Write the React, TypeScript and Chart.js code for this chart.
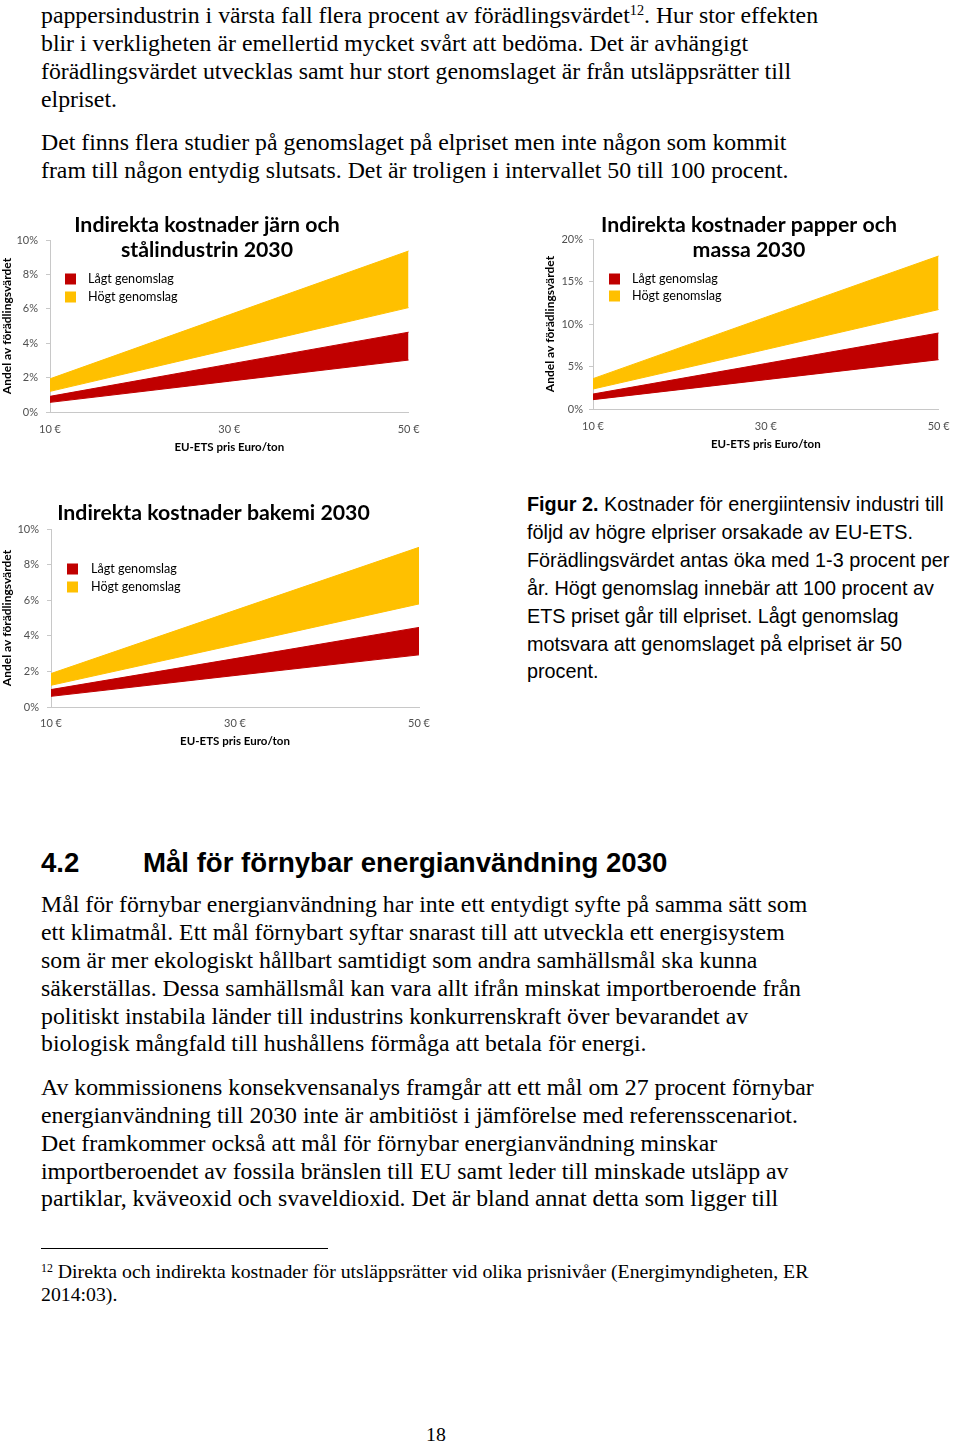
import React, { useEffect, useRef } from 'react';
import { Chart, registerables } from 'chart.js';

Chart.register(...registerables);

// ---------- Chart data ----------
const xLabels = ['10 €', '30 €', '50 €'];
const legendLabels = ['Lågt genomslag', 'Högt genomslag'];
const yAxisTitle = 'Andel av förädlingsvärdet';
const xAxisTitle = 'EU-ETS pris Euro/ton';

const steelTitle = ['Indirekta kostnader järn och', 'stålindustrin 2030'];
const steelLowMin = [0.56, 1.79, 3.02];
const steelLowMax = [0.91, 2.78, 4.64];
const steelHighMin = [1.2, 3.64, 6.07];
const steelHighMax = [1.93, 5.65, 9.36];

const paperTitle = ['Indirekta kostnader papper och', 'massa 2030'];
const paperLowMin = [1.1, 3.45, 5.8];
const paperLowMax = [1.76, 5.35, 8.94];
const paperHighMin = [2.35, 7.0, 11.7];
const paperHighMax = [3.57, 10.8, 18.0];

const chemTitle = ['Indirekta kostnader bakemi 2030'];
const chemLowMin = [0.6, 1.77, 2.93];
const chemLowMax = [0.98, 2.72, 4.47];
const chemHighMin = [1.22, 3.5, 5.79];
const chemHighMax = [1.88, 5.43, 8.97];

const RED = '#C00000';
const YELLOW = '#FFC000';
const AXIS = '#C8C8C8';
const TICK = '#505050';
const CFONT = 'Lato, "Open Sans", sans-serif';

// ---------- Page text ----------
const para1 = [
  'blir i verkligheten är emellertid mycket svårt att bedöma. Det är avhängigt',
  'förädlingsvärdet utvecklas samt hur stort genomslaget är från utsläppsrätter till',
  'elpriset.',
];
const para2 = [
  'Det finns flera studier på genomslaget på elpriset men inte någon som kommit',
  'fram till någon entydig slutsats. Det är troligen i intervallet 50 till 100 procent.',
];
const caption = [
  'följd av högre elpriser orsakade av EU-ETS.',
  'Förädlingsvärdet antas öka med 1-3 procent per',
  'år. Högt genomslag innebär att 100 procent av',
  'ETS priset går till elpriset. Lågt genomslag',
  'motsvara att genomslaget på elpriset är 50',
  'procent.',
];
const para3 = [
  'Mål för förnybar energianvändning har inte ett entydigt syfte på samma sätt som',
  'ett klimatmål. Ett mål förnybart syftar snarast till att utveckla ett energisystem',
  'som är mer ekologiskt hållbart samtidigt som andra samhällsmål ska kunna',
  'säkerställas. Dessa samhällsmål kan vara allt ifrån minskat importberoende från',
  'politiskt instabila länder till industrins konkurrenskraft över bevarandet av',
  'biologisk mångfald till hushållens förmåga att betala för energi.',
];
const para4 = [
  'Av kommissionens konsekvensanalys framgår att ett mål om 27 procent förnybar',
  'energianvändning till 2030 inte är ambitiöst i jämförelse med referensscenariot.',
  'Det framkommer också att mål för förnybar energianvändning minskar',
  'importberoendet av fossila bränslen till EU samt leder till minskade utsläpp av',
  'partiklar, kväveoxid och svaveldioxid. Det är bland annat detta som ligger till',
];

const SERIF = '"Liberation Serif", "Times New Roman", serif';
const SANS = '"Liberation Sans", Arial, sans-serif';
const BODY = 23.8;
const CAP = 19.8;
const FOOT = 19.8;

// ---------- Overlay plugin (title + legend inside plot) ----------
const overlayPlugin = {
  id: 'overlay',
  afterDraw(chart: any, _args: any, opts: any) {
    const ctx = chart.ctx;
    const ca = chart.chartArea;
    ctx.save();
    ctx.fillStyle = '#000';
    ctx.font = `bold ${opts.titleSize}px ${CFONT}`;
    ctx.textAlign = 'center';
    ctx.textBaseline = 'middle';
    (opts.title as string[]).forEach((t, i) => ctx.fillText(t, opts.titleX, opts.titleYs[i]));
    const items = chart.data.datasets.filter((d: any) => d.label);
    ctx.textAlign = 'left';
    ctx.font = `12.6px ${CFONT}`;
    items.forEach((d: any, i: number) => {
      const cy = ca.top + opts.legendRows[i];
      ctx.fillStyle = d.backgroundColor;
      ctx.fillRect(ca.left + opts.legendSq, cy - 5.5, 11, 11);
      ctx.fillStyle = '#000';
      ctx.fillText(d.label, ca.left + opts.legendText, cy);
    });
    ctx.restore();
  },
};

type BandProps = {
  left: number; top: number; w: number; h: number;
  title: string[]; titleX: number; titleYs: number[];
  lowMin: number[]; lowMax: number[]; highMin: number[]; highMax: number[];
  yMax: number; yStep: number;
  padTop: number; padRight: number; yWidth: number; xHeight: number;
  yTickPad: number; yTitlePad: number; xTickPad: number; xTitlePad: number;
  legendSq: number; legendText: number; legendRows: number[];
};

function BandChart(p: BandProps) {
  const ref = useRef<HTMLCanvasElement>(null);
  useEffect(() => {
    const line = (data: number[], color: string, label: string, fill: any) => ({
      label,
      data,
      borderColor: color,
      backgroundColor: color,
      borderWidth: 1,
      pointRadius: 0,
      pointHoverRadius: 0,
      tension: 0,
      fill,
    });
    const chart = new Chart(ref.current as HTMLCanvasElement, {
      type: 'line',
      data: {
        labels: xLabels,
        datasets: [
          line(p.lowMin, RED, '', false),
          line(p.lowMax, RED, legendLabels[0], '-1'),
          line(p.highMin, YELLOW, '', false),
          line(p.highMax, YELLOW, legendLabels[1], '-1'),
        ],
      },
      options: {
        animation: false,
        responsive: false,
        maintainAspectRatio: false,
        devicePixelRatio: 1,
        layout: { padding: { top: p.padTop, right: p.padRight, left: 0, bottom: 0 } },
        plugins: {
          legend: { display: false },
          title: { display: false },
          tooltip: { enabled: false },
          overlay: {
            title: p.title, titleX: p.titleX, titleYs: p.titleYs, titleSize: 21.3,
            legendSq: p.legendSq, legendText: p.legendText, legendRows: p.legendRows,
          },
        } as any,
        scales: {
          x: {
            type: 'category',
            offset: false,
            grid: { display: false, drawTicks: false, drawOnChartArea: false },
            border: { display: true, color: AXIS, width: 1 },
            ticks: { color: TICK, font: { family: CFONT, size: 11 }, padding: p.xTickPad, maxRotation: 0, autoSkip: false },
            title: {
              display: true, text: xAxisTitle, color: '#000',
              font: { family: CFONT, size: 11.5, weight: 'bold' },
              padding: { top: 0, bottom: p.xTitlePad },
            },
            afterFit: (s: any) => { s.height = p.xHeight; },
          },
          y: {
            min: 0, max: p.yMax,
            grid: { display: true, drawOnChartArea: false, drawTicks: true, tickLength: 4, color: AXIS },
            border: { display: true, color: AXIS, width: 1 },
            ticks: {
              stepSize: p.yStep, color: TICK, font: { family: CFONT, size: 11 }, padding: p.yTickPad,
              callback: (v: any) => `${v}%`,
            },
            title: {
              display: true, text: yAxisTitle, color: '#000',
              font: { family: CFONT, size: 12, weight: 'bold' },
              padding: { top: p.yTitlePad, bottom: 0 },
            },
            afterFit: (s: any) => { s.width = p.yWidth; },
          },
        },
      } as any,
      plugins: [overlayPlugin as any],
    });
    return () => chart.destroy();
  }, []);
  return (
    <canvas
      ref={ref}
      width={p.w}
      height={p.h}
      style={{ position: 'absolute', left: p.left, top: p.top, width: p.w, height: p.h }}
    />
  );
}

function Line(props: { x: number; cy: number; size: number; family: string; k: number; children: any; bold?: boolean }) {
  return (
    <div
      style={{
        position: 'absolute', left: props.x, top: props.cy - props.k * props.size,
        fontFamily: props.family, fontSize: props.size, lineHeight: 1, whiteSpace: 'nowrap',
        color: '#000', fontWeight: props.bold ? 'bold' : 'normal',
      }}
    >
      {props.children}
    </div>
  );
}

const KS = 0.49; // serif offset factor
const KA = 0.44; // sans offset factor

export default function App() {
  const sup: React.CSSProperties = { fontSize: '0.6em', position: 'relative', top: '-0.55em' };
  return (
    <div style={{ position: 'absolute', left: 0, top: 0, width: 960, height: 1444, background: '#fff', overflow: 'hidden' }}>
      <Line x={41} cy={16} size={BODY} family={SERIF} k={KS}>
        pappersindustrin i värsta fall flera procent av förädlingsvärdet<span style={sup}>12</span>. Hur stor effekten
      </Line>
      {para1.map((t, i) => (
        <Line key={'p1' + i} x={41} cy={44 + i * 27.7} size={BODY} family={SERIF} k={KS}>{t}</Line>
      ))}
      {para2.map((t, i) => (
        <Line key={'p2' + i} x={41} cy={143 + i * 27.8} size={BODY} family={SERIF} k={KS}>{t}</Line>
      ))}

      <BandChart
        left={0} top={200} w={430} h={262}
        title={steelTitle} titleX={207} titleYs={[25.5, 50.5]}
        lowMin={steelLowMin} lowMax={steelLowMax} highMin={steelHighMin} highMax={steelHighMax}
        yMax={10} yStep={2}
        padTop={40} padRight={21} yWidth={50} xHeight={50}
        yTickPad={8} yTitlePad={0} xTickPad={10.4} xTitlePad={7.4}
        legendSq={15} legendText={38} legendRows={[39, 57]}
      />
      <BandChart
        left={540} top={200} w={420} h={262}
        title={paperTitle} titleX={209} titleYs={[25.5, 50.5]}
        lowMin={paperLowMin} lowMax={paperLowMax} highMin={paperHighMin} highMax={paperHighMax}
        yMax={20} yStep={5}
        padTop={39} padRight={12} yWidth={53} xHeight={53}
        yTickPad={6} yTitlePad={3.4} xTickPad={10.4} xTitlePad={10.4}
        legendSq={16} legendText={39} legendRows={[40, 57]}
      />
      <BandChart
        left={0} top={490} w={440} h={262}
        title={chemTitle} titleX={213.5} titleYs={[23.5]}
        lowMin={chemLowMin} lowMax={chemLowMax} highMin={chemHighMin} highMax={chemHighMax}
        yMax={10} yStep={2}
        padTop={39} padRight={21} yWidth={51} xHeight={45}
        yTickPad={8} yTitlePad={0} xTickPad={9.4} xTitlePad={3.4}
        legendSq={16} legendText={40} legendRows={[40, 58]}
      />

      <Line x={527} cy={504} size={CAP} family={SANS} k={KA}>
        <b>Figur 2.</b> Kostnader för energiintensiv industri till
      </Line>
      {caption.map((t, i) => (
        <Line key={'c' + i} x={527} cy={532 + i * 27.83} size={CAP} family={SANS} k={KA}>{t}</Line>
      ))}

      <Line x={41} cy={862} size={27.6} family={SANS} k={0.48} bold>4.2</Line>
      <Line x={143} cy={862} size={27.6} family={SANS} k={0.48} bold>Mål för förnybar energianvändning 2030</Line>

      {para3.map((t, i) => (
        <Line key={'p3' + i} x={41} cy={905 + i * 27.8} size={BODY} family={SERIF} k={KS}>{t}</Line>
      ))}
      {para4.map((t, i) => (
        <Line key={'p4' + i} x={41} cy={1088 + i * 27.75} size={BODY} family={SERIF} k={KS}>{t}</Line>
      ))}

      <div style={{ position: 'absolute', left: 41, top: 1248, width: 287, height: 1, background: '#000' }} />
      <Line x={41} cy={1272} size={FOOT} family={SERIF} k={KS}>
        <span style={sup}>12</span> Direkta och indirekta kostnader för utsläppsrätter vid olika prisnivåer (Energimyndigheten, ER
      </Line>
      <Line x={41} cy={1295} size={FOOT} family={SERIF} k={KS}>2014:03).</Line>

      <Line x={426} cy={1435} size={FOOT} family={SERIF} k={KS}>18</Line>
    </div>
  );
}
